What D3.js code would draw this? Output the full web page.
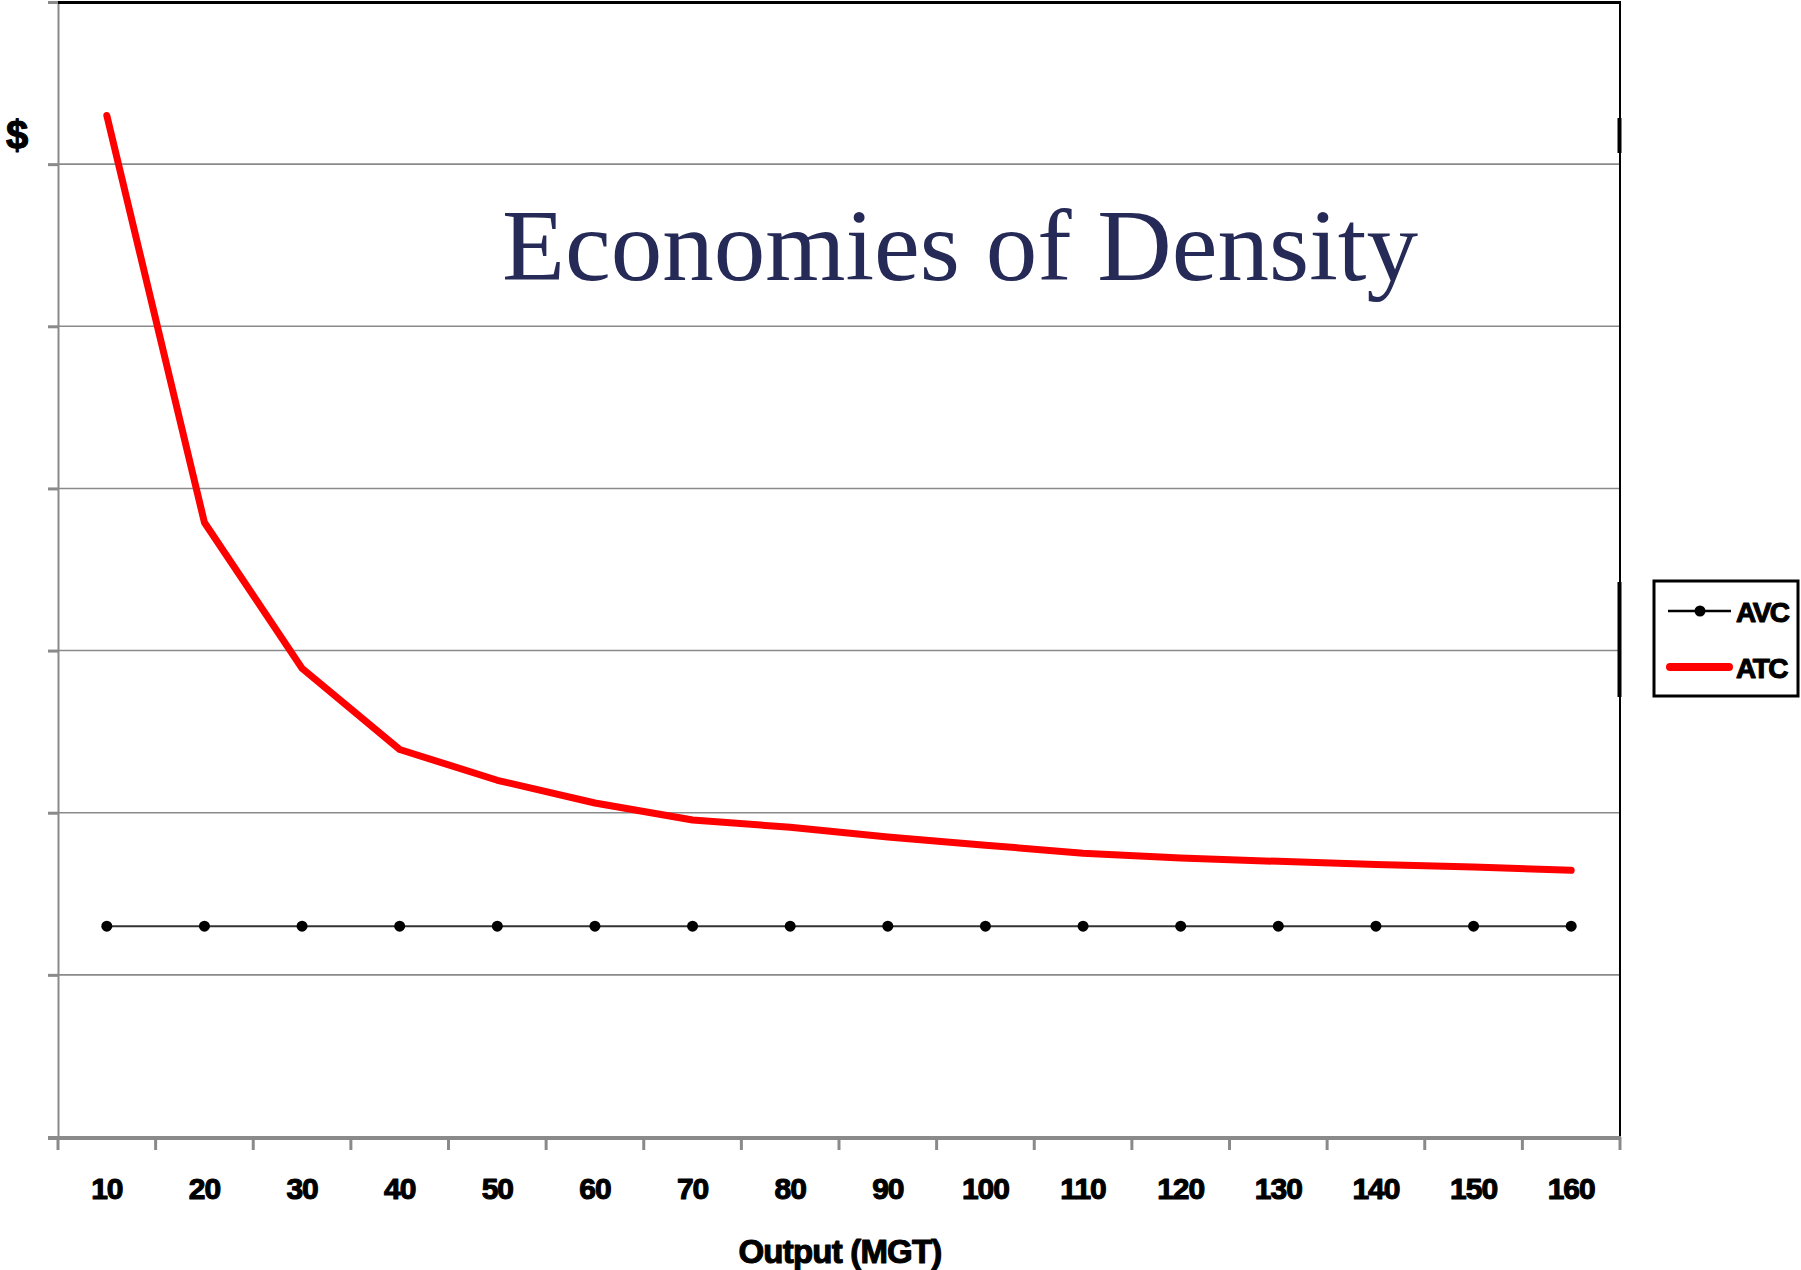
<!DOCTYPE html>
<html>
<head>
<meta charset="utf-8">
<script src="https://cdn.jsdelivr.net/npm/d3@7"></script>
<style>
  html, body { margin: 0; padding: 0; background: #fff; }
  svg { display: block; }
</style>
</head>
<body>
<svg id="chart" width="1801" height="1270"></svg>
<script>
// ---- data ----
const categories = ["10","20","30","40","50","60","70","80","90","100","110","120","130","140","150","160"];
const atcValues = [6.30, 3.79, 2.89, 2.39, 2.20, 2.06, 1.955, 1.91, 1.85, 1.80, 1.75, 1.72, 1.70, 1.68, 1.665, 1.645];
const avcValues = [1.30, 1.30, 1.30, 1.30, 1.30, 1.30, 1.30, 1.30, 1.30, 1.30, 1.30, 1.30, 1.30, 1.30, 1.30, 1.30];
const yTicks = [0, 1, 2, 3, 4, 5, 6, 7];
const seriesNames = ["AVC", "ATC"];
const titleText = "Economies of Density";
const xTitle = "Output (MGT)";
const yTitle = "$";

// ---- layout ----
const L = 58, R = 1620, T = 2, B = 1137;
const svg = d3.select("#chart");

const x = d3.scaleBand().domain(categories).range([L, R]).padding(0);
const y = d3.scaleLinear().domain([0, 7]).range([B, T]);
const cx = c => x(c) + x.bandwidth() / 2;

// gridlines
svg.append("g").selectAll("line")
  .data(yTicks.filter(v => v > 0 && v < 7))
  .join("line")
  .attr("x1", L).attr("x2", R)
  .attr("y1", d => y(d)).attr("y2", d => y(d))
  .attr("stroke", "#8a8a8a").attr("stroke-width", 1.6);

// left axis with ticks (no labels)
const yAxis = svg.append("g").attr("transform", `translate(${L},0)`)
  .call(d3.axisLeft(y).tickValues(yTicks).tickSize(10).tickFormat(""));
yAxis.select(".domain").attr("stroke", "#8a8a8a").attr("stroke-width", 2);
yAxis.selectAll(".tick line").attr("stroke", "#8a8a8a").attr("stroke-width", 3);

// top border
svg.append("line").attr("x1", L).attr("x2", R + 1).attr("y1", y(7) + 0.5).attr("y2", y(7) + 0.5)
  .attr("stroke", "#000").attr("stroke-width", 3);
// right border
svg.append("line").attr("x1", R).attr("x2", R).attr("y1", T).attr("y2", B)
  .attr("stroke", "#000").attr("stroke-width", 2);
svg.append("rect").attr("x", R - 2.5).attr("y", 118).attr("width", 4).attr("height", 35).attr("fill", "#000");
svg.append("rect").attr("x", R - 2.5).attr("y", 582).attr("width", 4).attr("height", 115).attr("fill", "#000");

const boldText = sel => sel
  .attr("font-family", "'Liberation Sans', Arial, sans-serif")
  .attr("font-weight", "bold")
  .attr("fill", "#000")
  .attr("stroke", "#000")
  .attr("stroke-width", 1.1)
  .attr("stroke-linejoin", "round");

// bottom axis
const xAxis = svg.append("g").attr("transform", `translate(0,${B})`)
  .call(d3.axisBottom(x).tickSize(0).tickPadding(0));
xAxis.select(".domain").remove();
xAxis.selectAll(".tick text")
  .attr("y", 62).attr("dy", 0)
  .attr("font-size", 30)
  .attr("letter-spacing", -1)
  .call(boldText);
svg.append("line").attr("x1", 48).attr("x2", R + 1).attr("y1", B + 1).attr("y2", B + 1)
  .attr("stroke", "#8a8a8a").attr("stroke-width", 4);
const edges = categories.map(c => x(c)).concat([R]);
svg.append("g").selectAll("line").data(edges).join("line")
  .attr("x1", d => d).attr("x2", d => d)
  .attr("y1", B).attr("y2", B + 13)
  .attr("stroke", "#8a8a8a").attr("stroke-width", 3);

// AVC line
svg.append("path")
  .datum(avcValues)
  .attr("d", d3.line().x((d, i) => cx(categories[i])).y(d => y(d)))
  .attr("fill", "none").attr("stroke", "#333").attr("stroke-width", 2);
svg.append("g").selectAll("circle").data(avcValues).join("circle")
  .attr("cx", (d, i) => cx(categories[i])).attr("cy", d => y(d))
  .attr("r", 5.5).attr("fill", "#000");

// ATC line
svg.append("path")
  .datum(atcValues)
  .attr("d", d3.line().x((d, i) => cx(categories[i])).y(d => y(d)))
  .attr("fill", "none").attr("stroke", "#ff0000").attr("stroke-width", 7)
  .attr("stroke-linejoin", "round").attr("stroke-linecap", "round");

// title
svg.append("text")
  .attr("x", 502).attr("y", 280)
  .attr("font-family", "'Liberation Serif', 'Times New Roman', serif")
  .attr("font-size", 102)
  .attr("fill", "#262a56")
  .attr("textLength", 916).attr("lengthAdjust", "spacingAndGlyphs")
  .text(titleText);

// axis titles
svg.append("text")
  .attr("x", 840).attr("y", 1263).attr("text-anchor", "middle")
  .attr("font-size", 33).attr("letter-spacing", -0.8)
  .call(boldText)
  .text(xTitle);
svg.append("text")
  .attr("x", 17).attr("y", 149).attr("text-anchor", "middle")
  .attr("font-size", 40)
  .call(boldText)
  .text(yTitle);

// legend
const lg = svg.append("g");
lg.append("rect").attr("x", 1654).attr("y", 581).attr("width", 144).attr("height", 115)
  .attr("fill", "#fff").attr("stroke", "#000").attr("stroke-width", 3);
const legendRows = [
  { name: seriesNames[0], y: 611 },
  { name: seriesNames[1], y: 667 }
];
// AVC legend
lg.append("line").attr("x1", 1668).attr("x2", 1731).attr("y1", legendRows[0].y).attr("y2", legendRows[0].y)
  .attr("stroke", "#000").attr("stroke-width", 2.5);
lg.append("circle").attr("cx", 1700).attr("cy", legendRows[0].y).attr("r", 5.5).attr("fill", "#000");
// ATC legend
lg.append("line").attr("x1", 1670).attr("x2", 1729).attr("y1", legendRows[1].y).attr("y2", legendRows[1].y)
  .attr("stroke", "#ff0000").attr("stroke-width", 8).attr("stroke-linecap", "round");
lg.selectAll("text.lt").data(legendRows).join("text")
  .attr("class", "lt")
  .attr("x", 1736).attr("y", d => d.y + 11)
  .attr("font-size", 28).attr("letter-spacing", -1.5)
  .call(boldText)
  .text(d => d.name);
</script>
</body>
</html>
